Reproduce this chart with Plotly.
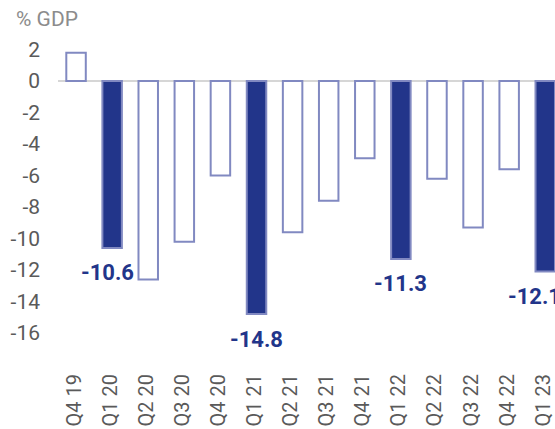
import plotly.graph_objects as go

categories = ["Q4 19", "Q1 20", "Q2 20", "Q3 20", "Q4 20", "Q1 21", "Q2 21",
              "Q3 21", "Q4 21", "Q1 22", "Q2 22", "Q3 22", "Q4 22", "Q1 23"]
values = [1.8, -10.6, -12.6, -10.2, -6.0, -14.8, -9.6, -7.6, -4.9, -11.3, -6.2, -9.3, -5.6, -12.1]
highlight = [False, True, False, False, False, True, False, False, False, True, False, False, False, True]
y_ticks = [2, 0, -2, -4, -6, -8, -10, -12, -14, -16]
unit_label = "% GDP"

DARK = "#22358A"
EDGE = "#8189C1"

x = list(range(len(categories)))
fills = [DARK if h else "#FFFFFF" for h in highlight]

fig = go.Figure()
fig.add_trace(go.Bar(
    x=x, y=values, width=0.54,
    marker=dict(color=fills, line=dict(color=EDGE, width=2)),
    hoverinfo="skip",
))

label_xshift = {1: -5, 13: -11}
for i, (v, h) in enumerate(zip(values, highlight)):
    if h:
        fig.add_annotation(
            x=i, y=v, xref="x", yref="y", text=f"{v:.1f}", showarrow=False,
            yanchor="middle", xanchor="center", yshift=-25, xshift=label_xshift.get(i, 0),
            font=dict(family="Roboto", size=22, color=DARK, weight="bold"),
        )

fig.add_annotation(
    x=0, y=1, xref="paper", yref="paper", xanchor="left", yanchor="middle",
    xshift=-44, yshift=21, text=unit_label, showarrow=False,
    font=dict(family="Roboto", size=21, color="#8C8C8C"),
)

fig.update_layout(
    width=555, height=429,
    margin=dict(l=58, r=0, t=40, b=64, autoexpand=False),
    paper_bgcolor="white", plot_bgcolor="white",
    showlegend=False,
    font=dict(family="Roboto", color="#5A5A5A"),
    xaxis=dict(
        range=[-0.5, 13.27], tickmode="array", tickvals=x, ticktext=categories,
        tickangle=-90, showgrid=False, zeroline=False, showline=False,
        tickfont=dict(size=20, color="#5A5A5A"), ticks="", automargin=False,
        ticklabelstandoff=4, ticklabelshift=-2, ticklabeloverflow="allow",
    ),
    yaxis=dict(
        range=[-18.03, 2.603], tickmode="array", tickvals=y_ticks,
        ticktext=[str(t) for t in y_ticks], showgrid=False,
        zeroline=True, zerolinecolor="#D6D6D6", zerolinewidth=2,
        showline=False, ticks="", ticklabelstandoff=17, automargin=False,
        tickfont=dict(size=21, color="#5A5A5A"),
    ),
)

# remove the page's default body margin so the figure fills the window exactly
fig.write_html(
    "out.html",
    config={"displayModeBar": False},
    post_script="document.body.style.margin='0';document.body.style.overflow='hidden';",
)
